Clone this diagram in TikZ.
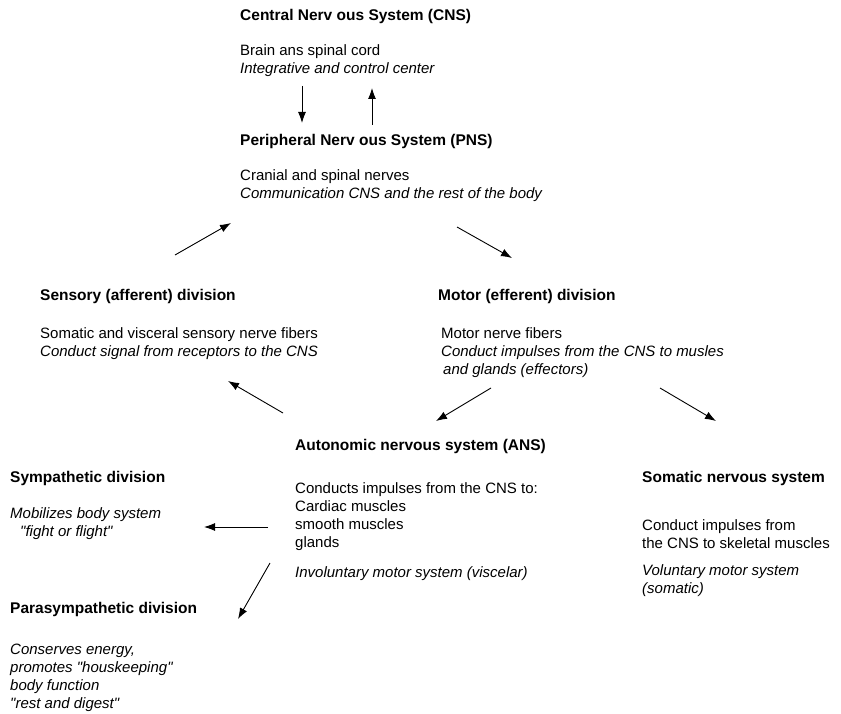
\documentclass[tikz,border=0pt]{standalone}
\usepackage{fontspec}
\setmainfont{Liberation Sans}
\usepackage{tikz}
\usetikzlibrary{arrows.meta,positioning}

\newcommand{\dq}{\textquotedbl}

\begin{document}
\begin{tikzpicture}[
    x=1pt, y=-1pt,
    heading/.style={anchor=north west, inner sep=0pt, font=\fontsize{15.5}{18}\selectfont\bfseries},
    bodytext/.style={anchor=north west, inner sep=0pt, align=left, font=\fontsize{15}{18}\selectfont},
    link/.style={line width=0.9pt, -{Latex[length=11pt,width=8pt]}}
]
\useasboundingbox (0,0) rectangle (841,714);

% CNS
\node[heading] (cns) at (240, 9) {Central Nerv ous System (CNS)};
\node[bodytext] (cnsbody) at (240, 44) {Brain ans spinal cord\\ \textit{Integrative and control center}};

% PNS
\node[heading] (pns) at (240, 134) {Peripheral Nerv ous System (PNS)};
\node[bodytext] (pnsbody) at (240, 169) {Cranial and spinal nerves\\ \textit{Communication CNS and the rest of the body}};

% Sensory / Motor
\node[heading] (sensory) at (40, 289) {Sensory (afferent) division};
\node[bodytext] (sensorybody) at (40, 327) {Somatic and visceral sensory nerve fibers\\ \textit{Conduct signal from receptors to the CNS}};
\node[heading] (motor) at (438, 289) {Motor (efferent) division};
\node[bodytext] (motorbody) at (441, 327) {Motor nerve fibers\\ \textit{Conduct impulses from the CNS to musles}\\ \hspace*{2pt}\textit{and glands (effectors)}};

% ANS
\node[heading] (ans) at (295, 439) {Autonomic nervous system (ANS)};
\node[bodytext] (ansbody) at (295, 482) {Conducts impulses from the CNS to:\\ Cardiac muscles\\ smooth muscles\\ glands};
\node[bodytext] (ansnote) at (295, 566) {\textit{Involuntary motor system (viscelar)}};

% Somatic
\node[heading] (somatic) at (642, 471) {Somatic nervous system};
\node[bodytext] (somaticbody) at (642, 519) {Conduct impulses from\\ the CNS to skeletal muscles};
\node[bodytext] (somaticnote) at (642, 564) {\textit{Voluntary motor system}\\ \textit{(somatic)}};

% Sympathetic / Parasympathetic
\node[heading] (symp) at (10, 471) {Sympathetic division};
\node[bodytext] (sympbody) at (10, 507) {\textit{Mobilizes body system}\\ \hspace*{10pt}\textit{\dq fight or flight\dq}};
\node[heading] (para) at (10, 602) {Parasympathetic division};
\node[bodytext] (parabody) at (10, 644) {\textit{Conserves energy,}\\ \textit{promotes \dq houskeeping\dq}\\ \textit{body function}\\ \textit{\dq rest and digest\dq}};

% Arrow ends
\coordinate (cnsout) at (302, 86);   \coordinate (pnsin) at (302, 123);
\coordinate (pnsout) at (372, 125);  \coordinate (cnsin) at (372, 88);
\coordinate (sensout) at (175, 255); \coordinate (pnsleft) at (231, 223);
\coordinate (pnsright) at (457, 227);\coordinate (motorin) at (512, 258);
\coordinate (ansup) at (283, 413);   \coordinate (sensin) at (228, 381);
\coordinate (motorleft) at (491, 388); \coordinate (ansin) at (436, 421);
\coordinate (motorright) at (660, 388); \coordinate (somin) at (716, 421);
\coordinate (ansleft) at (268, 527); \coordinate (sympin) at (204, 527);
\coordinate (ansdown) at (270, 563); \coordinate (parain) at (238, 619);

% Connections
\draw[link] (cnsout) -- (pnsin);
\draw[link] (pnsout) -- (cnsin);
\draw[link] (sensout) -- (pnsleft);
\draw[link] (pnsright) -- (motorin);
\draw[link] (ansup) -- (sensin);
\draw[link] (motorleft) -- (ansin);
\draw[link] (motorright) -- (somin);
\draw[link] (ansleft) -- (sympin);
\draw[link] (ansdown) -- (parain);

\end{tikzpicture}
\end{document}
